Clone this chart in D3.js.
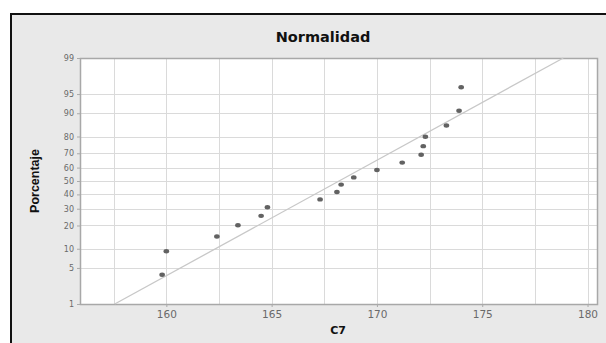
<!DOCTYPE html>
<html>
<head>
<meta charset="utf-8">
<script src="https://cdn.jsdelivr.net/npm/d3@7"></script>
<style>
  body { margin: 0; background: #fff; }
  svg { display: block; }
</style>
</head>
<body>
<div id="chart"></div>
<script>
// heights (C7) and plotted percentages
var heights = [159.8, 160.0, 162.4, 163.4, 164.5, 164.8, 167.3, 168.1, 168.3, 168.9, 170.0, 171.2, 172.1, 172.2, 172.3, 173.3, 173.9, 174.0];
var percents = [3.8, 9.2, 14.7, 20.1, 25.5, 31.0, 36.4, 41.8, 47.3, 52.7, 58.2, 63.6, 69.0, 74.5, 79.9, 85.3, 90.8, 96.2];

// fitted normal line end points (x value, percent)
var fitX = [157.55, 178.85];
var fitP = [1, 99];

var xTicks = [160, 165, 170, 175, 180];
var xMinorTicks = [157.5, 162.5, 167.5, 172.5, 177.5];
var yTicks = [1, 5, 10, 20, 30, 40, 50, 60, 70, 80, 90, 95, 99];

var sizes = { width: 606, height: 343 };
var plot = { left: 80, top: 58, right: 597, bottom: 304 };

// inverse normal cdf (Acklam)
function probit( p ) {
	var a = [ -3.969683028665376e+01, 2.209460984245205e+02, -2.759285104469687e+02, 1.383577518672690e+02, -3.066479806614716e+01, 2.506628277459239e+00 ];
	var b = [ -5.447609879822406e+01, 1.615858368580409e+02, -1.556989798598866e+02, 6.680131188771972e+01, -1.328068155288572e+01 ];
	var c = [ -7.784894002430293e-03, -3.223964580411365e-01, -2.400758277161838e+00, -2.549732539343734e+00, 4.374664141464968e+00, 2.938163982698783e+00 ];
	var d = [ 7.784695709041462e-03, 3.224671290700398e-01, 2.445134137142996e+00, 3.754408661907416e+00 ];
	var pl = 0.02425, q, r;
	if ( p < pl ) {
		q = Math.sqrt( -2 * Math.log( p ) );
		return ( ( ( ( ( c[0] * q + c[1] ) * q + c[2] ) * q + c[3] ) * q + c[4] ) * q + c[5] ) / ( ( ( ( d[0] * q + d[1] ) * q + d[2] ) * q + d[3] ) * q + 1 );
	}
	if ( p > 1 - pl ) {
		q = Math.sqrt( -2 * Math.log( 1 - p ) );
		return -( ( ( ( ( c[0] * q + c[1] ) * q + c[2] ) * q + c[3] ) * q + c[4] ) * q + c[5] ) / ( ( ( ( d[0] * q + d[1] ) * q + d[2] ) * q + d[3] ) * q + 1 );
	}
	q = p - 0.5;
	r = q * q;
	return ( ( ( ( ( a[0] * r + a[1] ) * r + a[2] ) * r + a[3] ) * r + a[4] ) * r + a[5] ) * q / ( ( ( ( ( b[0] * r + b[1] ) * r + b[2] ) * r + b[3] ) * r + b[4] ) * r + 1 );
}

var scales = {};
scales.x = d3.scaleLinear()
	.domain( [ 155.9, 180.45 ] )
	.range( [ plot.left, plot.right ] );
scales.z = d3.scaleLinear()
	.domain( [ probit( 0.01 ), probit( 0.99 ) ] )
	.range( [ plot.bottom, plot.top ] );
scales.y = function ( pct ) { return scales.z( probit( pct / 100 ) ); };

var svg = d3.select( '#chart' ).append( 'svg' )
	.attr( 'width', sizes.width )
	.attr( 'height', sizes.height );

// outer frame
svg.append( 'rect' )
	.attr( 'x', 11 ).attr( 'y', 14 )
	.attr( 'width', 700 ).attr( 'height', 400 )
	.style( 'fill', '#e9e9e9' )
	.style( 'stroke', '#111' )
	.style( 'stroke-width', 2 );

// plot area
svg.append( 'rect' )
	.attr( 'x', plot.left ).attr( 'y', plot.top )
	.attr( 'width', plot.right - plot.left ).attr( 'height', plot.bottom - plot.top )
	.style( 'fill', '#fff' );

var grid = svg.append( 'g' ).style( 'stroke', '#dadada' ).style( 'stroke-width', 1 );

grid.selectAll( 'line.v' )
	.data( xTicks.concat( xMinorTicks ) )
	.enter().append( 'line' )
	.attr( 'x1', function ( d ) { return Math.round( scales.x( d ) ) + 0.5; } )
	.attr( 'x2', function ( d ) { return Math.round( scales.x( d ) ) + 0.5; } )
	.attr( 'y1', plot.top )
	.attr( 'y2', plot.bottom );

grid.selectAll( 'line.h' )
	.data( yTicks )
	.enter().append( 'line' )
	.attr( 'x1', plot.left )
	.attr( 'x2', plot.right )
	.attr( 'y1', function ( d ) { return Math.round( scales.y( d ) ) + 0.5; } )
	.attr( 'y2', function ( d ) { return Math.round( scales.y( d ) ) + 0.5; } );

// plot border
svg.append( 'rect' )
	.attr( 'x', plot.left + 0.5 ).attr( 'y', plot.top + 0.5 )
	.attr( 'width', plot.right - plot.left ).attr( 'height', plot.bottom - plot.top )
	.style( 'fill', 'none' )
	.style( 'stroke', '#a8a8a8' )
	.style( 'stroke-width', 1.5 );

// axes
var axes = {};
axes.x = d3.axisBottom( scales.x ).tickValues( xTicks ).tickSize( 3 ).tickPadding( 4 );
axes.y = d3.axisLeft( d3.scaleLinear().domain( scales.z.domain() ).range( scales.z.range() ) )
	.tickValues( yTicks.map( function ( d ) { return probit( d / 100 ); } ) )
	.tickFormat( function ( d, i ) { return yTicks[i]; } )
	.tickSize( 3 ).tickPadding( 3 );

var gx = svg.append( 'g' )
	.attr( 'transform', 'translate(0,' + plot.bottom + ')' )
	.call( axes.x );
var gy = svg.append( 'g' )
	.attr( 'transform', 'translate(' + plot.left + ',0)' )
	.call( axes.y );

[ gx, gy ].forEach( function ( g ) {
	g.select( '.domain' ).remove();
	g.selectAll( '.tick line' ).style( 'stroke', '#aaa' );
	g.selectAll( '.tick text' )
		.style( 'fill', '#6a6a6a' )
		.style( 'font-family', 'Verdana, "DejaVu Sans", sans-serif' );
} );
gx.selectAll( '.tick text' ).style( 'font-size', '10.5px' );
gy.selectAll( '.tick text' ).style( 'font-size', '8px' );

// fitted line
svg.append( 'line' )
	.attr( 'x1', scales.x( fitX[0] ) )
	.attr( 'y1', scales.y( fitP[0] ) )
	.attr( 'x2', scales.x( fitX[1] ) )
	.attr( 'y2', scales.y( fitP[1] ) )
	.style( 'stroke', '#c8c8c8' )
	.style( 'stroke-width', 1.3 );

// points
svg.append( 'g' ).selectAll( 'ellipse' )
	.data( heights )
	.enter().append( 'ellipse' )
	.attr( 'cx', function ( d ) { return scales.x( d ); } )
	.attr( 'cy', function ( d, i ) { return scales.y( percents[i] ); } )
	.attr( 'rx', 2.8 )
	.attr( 'ry', 2.2 )
	.style( 'fill', '#626262' );

// title and labels
svg.append( 'text' )
	.attr( 'x', 323 ).attr( 'y', 42 )
	.attr( 'text-anchor', 'middle' )
	.style( 'font-family', 'Verdana, "DejaVu Sans", sans-serif' )
	.style( 'font-weight', 'bold' )
	.style( 'font-size', '14.5px' )
	.style( 'fill', '#111' )
	.text( 'Normalidad' );

svg.append( 'text' )
	.attr( 'x', 338 ).attr( 'y', 334 )
	.attr( 'text-anchor', 'middle' )
	.style( 'font-family', 'Verdana, "DejaVu Sans", sans-serif' )
	.style( 'font-weight', 'bold' )
	.style( 'font-size', '11px' )
	.style( 'fill', '#111' )
	.text( 'C7' );

svg.append( 'text' )
	.attr( 'transform', 'translate(39,181) rotate(-90)' )
	.attr( 'text-anchor', 'middle' )
	.style( 'font-family', '"Liberation Sans Narrow", "Liberation Sans", sans-serif' )
	.style( 'font-weight', 'bold' )
	.style( 'font-size', '12.5px' )
	.style( 'fill', '#111' )
	.text( 'Porcentaje' );
</script>
</body>
</html>
